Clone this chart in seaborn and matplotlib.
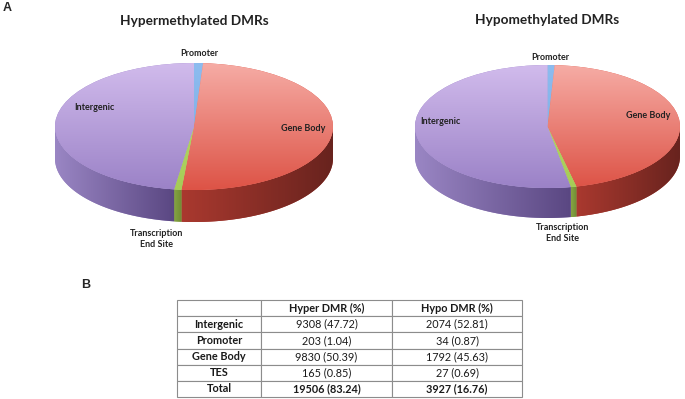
import numpy as np
import seaborn as sns
import matplotlib.pyplot as plt
from matplotlib.patches import Polygon

# table / pie data
regions = ['Intergenic', 'Promoter', 'Gene Body', 'TES']
hyper_counts = [9308, 203, 9830, 165]
hyper_pct = [47.72, 1.04, 50.39, 0.85]
hypo_counts = [2074, 34, 1792, 27]
hypo_pct = [52.81, 0.87, 45.63, 0.69]
totals = [19506, 3927]
totals_pct = [83.24, 16.76]
col_labels = ['', 'Hyper DMR (%)', 'Hypo DMR (%)']

# pie order, clockwise from 12 o'clock
pie_order = ['Promoter', 'Gene Body', 'TES', 'Intergenic']

top_colors = {
    'Promoter': ('#8dbcef', '#78a8e2'),
    'Gene Body': ('#f6aca5', '#dd5346'),
    'TES': ('#bcdb72', '#a6cc57'),
    'Intergenic': ('#d1bbec', '#9b82c7'),
}
side_colors = {
    'Promoter': ('#5d86b8', '#3f6590'),
    'Gene Body': ('#aa392f', '#68231e'),
    'TES': ('#86a443', '#6f8c34'),
    'Intergenic': ('#9a86c4', '#5a4782'),
}

sns.set_theme(style='white')
plt.rcParams['font.family'] = ['Lato', 'DejaVu Sans']

W, H = 685, 399
fig = plt.figure(figsize=(W / 100, H / 100), dpi=100)


def px_axes(left, top, width, height):
    return fig.add_axes([left / W, 1 - (top + height) / H, width / W, height / H])


def draw_pie(cx, cy, a, b, depth, counts):
    h = depth / b
    m = 1.1
    ax = px_axes(cx - m * a, cy - m * b, 2 * m * a, (2 * m + h) * b)
    values = [counts[regions.index(r)] for r in pie_order]
    wedges, _ = ax.pie(values, startangle=90, counterclock=False,
                       colors=[top_colors[r][1] for r in pie_order],
                       wedgeprops=dict(linewidth=0))
    ax.set_aspect('auto')
    vgrad = np.linspace(0, 1, 256).reshape(-1, 1)
    hgrad = np.linspace(0, 1, 256).reshape(1, -1)
    for w, r in zip(wedges, pie_order):
        # top surface gradient
        cmap = sns.blend_palette(list(top_colors[r]), as_cmap=True)
        img = ax.imshow(vgrad, cmap=cmap, extent=(-1, 1, -1, 1), aspect='auto',
                        origin='upper', zorder=1.5)
        img.set_clip_path(w)
        # side wall (front half only)
        lo, hi = sorted((w.theta1, w.theta2))
        t = np.radians(np.linspace(lo, hi, int(hi - lo) * 2 + 2))
        t = t[np.sin(t) <= 1e-9]
        if len(t) < 2:
            continue
        top_arc = np.column_stack([np.cos(t), np.sin(t)])
        bot_arc = np.column_stack([np.cos(t[::-1]), np.sin(t[::-1]) - h])
        poly = Polygon(np.vstack([top_arc, bot_arc]), closed=True,
                       facecolor=side_colors[r][0], linewidth=0, zorder=0.5)
        ax.add_patch(poly)
        xmin, xmax = np.cos(t).min(), np.cos(t).max()
        if xmax - xmin < 1e-6:
            continue
        scmap = sns.blend_palette(list(side_colors[r]), as_cmap=True)
        simg = ax.imshow(hgrad, cmap=scmap, extent=(xmin, xmax, -1 - h, 1),
                         aspect='auto', zorder=0.6)
        simg.set_clip_path(poly)
    ax.set_xlim(-m, m)
    ax.set_ylim(-m - h, m)
    ax.axis('off')
    return ax


draw_pie(194, 126.5, 139, 63.5, 32, hyper_counts)
draw_pie(547.5, 126.5, 132.5, 61.5, 30, hypo_counts)


def ftext(x, y, s, **kw):
    fig.text(x / W, 1 - y / H, s, ha='center', va='center', **kw)


ftext(194, 21, 'Hypermethylated DMRs', fontsize=9.8, fontweight='bold', color='#222222')
ftext(547, 20, 'Hypomethylated DMRs', fontsize=9.8, fontweight='bold', color='#222222')

lab_kw = dict(fontsize=6.5, fontweight='bold', color='#222222', linespacing=1.25)
ftext(199, 53, 'Promoter', **lab_kw)
ftext(94, 108, 'Intergenic', **lab_kw)
ftext(303, 129, 'Gene Body', **lab_kw)
ftext(157, 239, 'Transcription\nEnd Site', **lab_kw)
ftext(550, 57, 'Promoter', **lab_kw)
ftext(440, 122, 'Intergenic', **lab_kw)
ftext(648, 115, 'Gene Body', **lab_kw)
ftext(563, 233, 'Transcription\nEnd Site', **lab_kw)

ftext(7, 8, 'A', fontsize=9, fontweight='bold', family=['Liberation Sans', 'DejaVu Sans'])
ftext(86, 285, 'B', fontsize=9, fontweight='bold', family=['Liberation Sans', 'DejaVu Sans'])

# table
rows = []
for i, r in enumerate(regions):
    rows.append([r, f'{hyper_counts[i]} ({hyper_pct[i]:.2f})', f'{hypo_counts[i]} ({hypo_pct[i]:.2f})'])
rows.append(['Total', f'{totals[0]} ({totals_pct[0]:.2f})', f'{totals[1]} ({totals_pct[1]:.2f})'])

tax = px_axes(177, 300, 345, 97)
tax.axis('off')
tbl = tax.table(cellText=rows, colLabels=col_labels, cellLoc='center', bbox=[0, 0, 1, 1],
                colWidths=[84 / 345, 131 / 345, 130 / 345])
tbl.auto_set_font_size(False)
tbl.set_fontsize(7.8)
for (r, c), cell in tbl.get_celld().items():
    cell.set_edgecolor('#8c8c8c')
    cell.set_linewidth(0.8)
    txt = cell.get_text()
    txt.set_color('#1a1a1a')
    if r == 0 or c == 0 or r == len(rows):
        txt.set_fontweight('bold')

fig.savefig('out.png', dpi=100)
